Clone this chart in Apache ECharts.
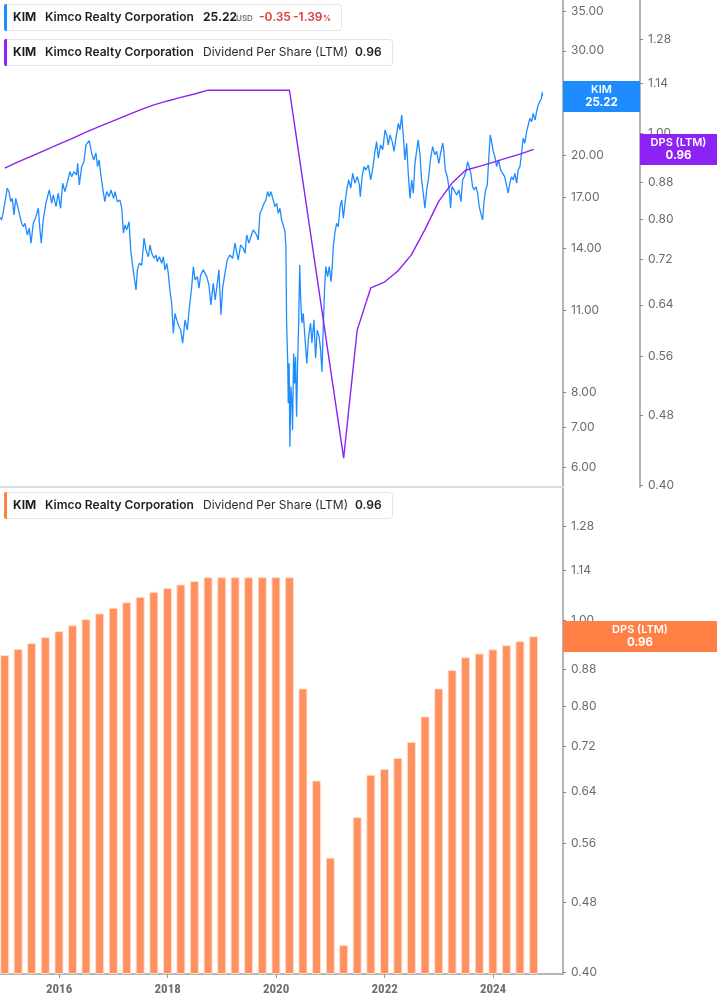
<!DOCTYPE html>
<html>
<head>
<meta charset="utf-8">
<script src="https://cdn.jsdelivr.net/npm/echarts@6/dist/echarts.min.js"></script>
<style>
  html, body { margin: 0; padding: 0; background: #fff; }
  #chart { width: 717px; height: 1005px; }
</style>
</head>
<body>
<div id="chart"></div>
<script>
// KIM daily close (USD)
const priceDates = [
  '2014-11-29','2014-12-10','2014-12-21',
  '2015-01-17','2015-01-28','2015-02-09','2015-02-20','2015-03-03','2015-03-15','2015-03-25','2015-04-08','2015-04-24','2015-05-05','2015-05-16','2015-06-01','2015-06-14','2015-06-26','2015-07-11','2015-07-29','2015-08-14','2015-08-25','2015-09-03','2015-09-16','2015-10-04','2015-10-27','2015-11-12','2015-11-23','2015-12-11','2015-12-26',
  '2016-01-11','2016-01-25','2016-02-09','2016-02-21','2016-03-14','2016-03-26','2016-04-10','2016-04-28','2016-05-05','2016-05-16','2016-06-01','2016-06-16','2016-06-30','2016-07-11','2016-07-22','2016-08-07','2016-08-22','2016-09-05','2016-09-16','2016-09-27','2016-10-08','2016-10-24','2016-11-04','2016-11-16','2016-12-03','2016-12-15',
  '2017-01-02','2017-01-12','2017-01-27','2017-02-14','2017-02-26','2017-03-09','2017-03-20','2017-03-31','2017-04-16','2017-04-27','2017-05-08','2017-05-20','2017-06-02','2017-06-11','2017-06-24','2017-07-10','2017-07-26','2017-08-08','2017-08-24','2017-09-04','2017-09-16','2017-10-01','2017-10-15','2017-10-23','2017-11-06','2017-11-22','2017-12-03','2017-12-14','2017-12-26',
  '2018-01-05','2018-01-17','2018-01-28','2018-02-08','2018-02-19','2018-03-03','2018-03-18','2018-03-30','2018-04-12','2018-04-28','2018-05-13','2018-05-27','2018-06-12','2018-06-23','2018-07-04','2018-07-20','2018-07-31','2018-08-11','2018-08-29','2018-09-09','2018-09-21','2018-10-06','2018-10-19','2018-11-04','2018-11-17','2018-12-01','2018-12-12','2018-12-26',
  '2019-01-06','2019-01-22','2019-02-06','2019-02-24','2019-03-15','2019-03-30','2019-04-10','2019-04-21','2019-05-07','2019-05-25','2019-06-06','2019-06-17','2019-07-02','2019-07-16','2019-07-31','2019-08-12','2019-08-23','2019-09-03','2019-09-14','2019-09-26','2019-10-07','2019-10-24','2019-11-05','2019-11-16','2019-11-27','2019-12-13','2019-12-24',
  '2020-01-05','2020-01-16','2020-01-27','2020-02-07','2020-02-18','2020-03-01','2020-03-07','2020-03-12','2020-03-19','2020-03-23','2020-03-29','2020-04-03','2020-04-10','2020-04-17','2020-04-21','2020-04-28','2020-05-05','2020-05-11','2020-05-18','2020-05-25','2020-06-01','2020-06-08','2020-06-14','2020-06-23','2020-07-02','2020-07-13','2020-07-26','2020-08-07','2020-08-20','2020-08-29','2020-09-12','2020-09-23','2020-10-04','2020-10-17','2020-10-27','2020-11-05','2020-11-13','2020-11-23','2020-12-01','2020-12-13','2020-12-24',
  '2021-01-05','2021-01-14','2021-01-20','2021-02-01','2021-02-12','2021-02-23','2021-03-07','2021-03-18','2021-03-29','2021-04-09','2021-04-21','2021-05-04','2021-05-18','2021-05-31','2021-06-15','2021-07-01','2021-07-15','2021-07-21','2021-08-02','2021-08-15','2021-08-28','2021-09-13','2021-09-29','2021-10-13','2021-10-28','2021-11-08','2021-11-19','2021-12-05','2021-12-19',
  '2022-01-04','2022-01-15','2022-01-26','2022-02-06','2022-02-21','2022-03-05','2022-03-18','2022-04-03','2022-04-14','2022-04-26','2022-05-07','2022-05-18','2022-05-29','2022-06-09','2022-06-21','2022-07-02','2022-07-13','2022-07-24','2022-08-04','2022-08-15','2022-08-27','2022-09-07','2022-09-18','2022-09-29','2022-10-11','2022-10-22','2022-11-07','2022-11-20','2022-12-04','2022-12-17',
  '2023-01-01','2023-01-13','2023-01-27','2023-02-04','2023-02-13','2023-02-27','2023-03-12','2023-03-21','2023-03-30','2023-04-13','2023-05-01','2023-05-16','2023-05-30','2023-06-10','2023-06-21','2023-07-02','2023-07-14','2023-07-24','2023-08-05','2023-08-16','2023-08-27','2023-09-08','2023-09-19','2023-09-30','2023-10-11','2023-10-23','2023-10-31','2023-11-12','2023-11-23','2023-12-04','2023-12-13','2023-12-24',
  '2024-01-02','2024-01-13','2024-01-25','2024-02-07','2024-02-21','2024-03-05','2024-03-19','2024-04-01','2024-04-12','2024-04-23','2024-05-05','2024-05-16','2024-05-27','2024-06-08','2024-06-18','2024-06-30','2024-07-11','2024-07-22','2024-08-02','2024-08-14','2024-08-25','2024-09-05','2024-09-17','2024-09-27','2024-10-11','2024-10-20','2024-10-31','2024-11-11','2024-11-22','2024-11-27','2024-11-29'
];
const priceValues = [
  15.76,15.60,16.10,
  17.64,17.41,16.74,16.96,15.90,16.96,16.85,16.00,15.40,15.20,15.40,14.72,15.11,14.26,15.40,15.80,16.32,15.01,14.26,15.60,16.64,17.52,16.64,17.18,16.42,17.30,
  16.32,17.98,17.41,17.86,18.80,18.44,18.80,18.56,19.42,17.86,19.17,19.54,20.85,20.72,21.20,20.21,19.67,20.21,19.17,19.67,18.56,17.41,16.74,17.41,17.07,17.52,
  16.96,17.41,16.74,16.85,16.32,14.82,15.30,15.01,15.50,13.89,13.19,12.53,11.90,12.86,13.19,13.10,14.54,13.89,13.53,14.16,13.71,13.45,13.62,13.27,13.53,13.19,13.53,12.86,13.19,
  12.70,11.82,11.30,10.06,10.87,10.60,10.33,10.19,9.69,10.60,10.19,11.10,12.05,13.03,12.37,12.53,11.98,12.61,12.86,12.94,12.53,12.13,11.23,12.21,11.45,12.21,12.86,10.80,
  11.98,12.70,13.36,13.62,13.45,14.26,14.35,13.36,14.16,13.98,13.71,14.72,14.26,14.63,15.01,15.11,14.72,14.44,16.00,16.21,16.53,16.85,17.41,17.07,17.41,16.85,16.42,
  16.64,16.00,16.32,15.60,15.30,14.91,14.07,10.47,9.08,7.68,8.96,6.49,8.19,7.68,6.92,9.31,8.29,9.19,7.29,8.96,10.40,13.10,11.60,10.47,10.87,9.93,8.96,9.93,10.47,9.69,10.60,9.14,10.19,9.93,9.43,8.67,10.19,12.05,13.03,12.53,13.03,
  12.29,13.10,14.07,14.91,15.40,15.20,16.42,16.85,15.70,16.64,17.52,18.21,17.64,18.68,17.98,18.44,17.86,17.07,18.44,19.17,18.92,19.29,18.21,19.04,20.34,21.12,19.82,20.85,20.47,
  22.10,21.67,20.85,21.67,21.12,20.34,21.40,22.67,22.10,23.41,21.53,19.67,20.99,18.68,16.96,18.21,17.30,19.42,20.34,21.26,20.08,18.21,17.30,16.32,17.52,18.21,19.82,20.72,20.08,20.34,
  19.42,20.21,20.99,20.34,18.92,18.44,17.52,16.32,17.74,17.52,17.18,17.52,16.74,18.21,18.44,18.80,19.54,19.42,18.68,17.74,17.52,17.74,17.30,16.42,16.00,15.60,16.64,17.52,17.86,19.95,21.67,20.99,
  20.34,19.95,19.17,19.67,18.92,19.04,18.44,18.56,17.30,17.98,18.44,18.21,18.68,17.98,18.92,19.17,20.21,21.40,20.99,21.95,22.52,23.11,22.81,23.56,22.96,23.71,24.33,24.49,24.97,25.55,25.22
];

// Dividend per share (LTM), quarterly
const dpsQuarters = [
  '2014-12-31',
  '2015-03-31','2015-06-30','2015-09-30','2015-12-31',
  '2016-03-31','2016-06-30','2016-09-30','2016-12-31',
  '2017-03-31','2017-06-30','2017-09-30','2017-12-31',
  '2018-03-31','2018-06-30','2018-09-30','2018-12-31',
  '2019-03-31','2019-06-30','2019-09-30','2019-12-31',
  '2020-03-31','2020-06-30','2020-09-30','2020-12-31',
  '2021-03-31','2021-06-30','2021-09-30','2021-12-31',
  '2022-03-31','2022-06-30','2022-09-30','2022-12-31',
  '2023-03-31','2023-06-30','2023-09-30','2023-12-31',
  '2024-03-31','2024-06-30','2024-09-30'
];
const dpsValues = [
  0.914,
  0.929,0.943,0.958,0.973,
  0.988,1.004,1.019,1.034,
  1.049,1.064,1.078,1.089,
  1.099,1.109,1.12,1.12,
  1.12,1.12,1.12,1.12,
  1.12,0.838,0.659,0.539,
  0.429,0.599,0.669,0.679,
  0.699,0.729,0.779,0.838,
  0.879,0.909,0.918,0.928,
  0.938,0.948,0.96
];
// quarters the line in the upper panel steps over
const dpsLineSkip = ['2020-06-30','2020-09-30','2020-12-31'];

const yearTicks = ['2016-01-01','2018-01-01','2020-01-01','2022-01-01','2024-01-01'];
const priceTicks = [6, 7, 8, 11, 14, 17, 20, 25, 30, 35];
const dpsTicks = [0.40, 0.48, 0.56, 0.64, 0.72, 0.80, 0.88, 0.96, 1.00, 1.14, 1.28];

const priceRange = [5.554, 36.52];
const dpsRangeTop = [0.3979, 1.417];
const dpsRangeBottom = [0.3979, 1.4134];
const xRange = ['2014-11-29', '2025-04-16'];

const lastPrice = 25.22;
const lastDps = 0.96;

const BLUE = '#1e8cff';
const PURPLE = '#8c22f4';
const ORANGE = '#ff905f';
const ORANGE_TAG = '#ff7f45';
const FONT = 'Inter, "Noto Sans", sans-serif';

function toTime(s) {
    const p = s.split('-').map(Number);
    return Date.UTC(p[0], p[1] - 1, p[2]);
}

// log scale drawn on a value axis: ln(v / min), so bars start at the bottom
function logAxis(range, ticks, extra) {
    const base = Math.log(range[0]);
    const vals = ticks.map(t => Math.log(t) - base);
    return Object.assign({
        type: 'value',
        position: 'right',
        min: 0,
        max: Math.log(range[1]) - base,
        splitLine: { show: false },
        axisLine: { show: true, lineStyle: { color: '#b5b5b5', width: 2 } },
        axisTick: { show: true, customValues: vals, length: 3, lineStyle: { color: '#8a8a8a' } },
        axisLabel: {
            customValues: vals,
            margin: 8,
            color: '#6b6b6b',
            fontSize: 12,
            fontFamily: FONT,
            formatter: v => Math.exp(v + base).toFixed(2)
        }
    }, extra);
}
function toAxis(range, v) {
    return Math.log(v) - Math.log(range[0]);
}

function tag(lines, width, color, distance) {
    return {
        silent: true,
        symbol: 'none',
        lineStyle: { color: 'rgba(0,0,0,0)', width: 0 },
        label: {
            show: true,
            position: 'end',
            distance: distance,
            backgroundColor: color,
            padding: [3, 0, 3, 0],
            formatter: '{a|' + lines[0] + '}\n{b|' + lines[1] + '}',
            rich: {
                a: { width: width, align: 'center', color: '#fff', fontSize: 11, fontWeight: 600, lineHeight: 12, fontFamily: FONT },
                b: { width: width, align: 'center', color: '#fff', fontSize: 11.5, fontWeight: 700, lineHeight: 13, fontFamily: FONT }
            }
        }
    };
}

function legendBox(y, w, color, parts) {
    const els = [
        { type: 'rect', z: 100, shape: { x: 4.5, y: y + 0.5, width: w, height: 26, r: 3 },
          style: { fill: '#fff', stroke: '#e4e4e4', lineWidth: 1 } },
        { type: 'rect', z: 101, shape: { x: 4, y: y, width: 3, height: 27, r: [2, 0, 0, 2] },
          style: { fill: color } }
    ];
    parts.forEach(p => {
        els.push({
            type: 'text', z: 102, x: p[0], y: y + 13.5 + (p[4] || 0),
            style: { text: p[1], font: p[2], fill: p[3], verticalAlign: 'middle' }
        });
    });
    return els;
}

const B = '700 12px ' + FONT;
const SB = '600 12px ' + FONT;
const N = '400 12px ' + FONT;
const SMALL = '600 8px ' + FONT;

const graphics = [].concat(
    legendBox(4, 337, BLUE, [
        [13, 'KIM', B, '#1f1f1f'],
        [45, 'Kimco Realty Corporation', SB, '#1f1f1f'],
        [203, lastPrice.toFixed(2), B, '#1f1f1f'],
        [236, 'USD', SMALL, '#777', 1.5],
        [259, '-0.35', SB, '#dd3b3b'],
        [293, '-1.39', SB, '#dd3b3b'],
        [323, '%', SMALL, '#dd3b3b', 1.5]
    ]),
    legendBox(39, 388, PURPLE, [
        [13, 'KIM', B, '#1f1f1f'],
        [45, 'Kimco Realty Corporation', SB, '#1f1f1f'],
        [203, 'Dividend Per Share (LTM)', N, '#2a2a2a'],
        [355, lastDps.toFixed(2), SB, '#1f1f1f']
    ]),
    legendBox(492, 388, ORANGE_TAG, [
        [13, 'KIM', B, '#1f1f1f'],
        [45, 'Kimco Realty Corporation', SB, '#1f1f1f'],
        [203, 'Dividend Per Share (LTM)', N, '#2a2a2a'],
        [355, lastDps.toFixed(2), SB, '#1f1f1f']
    ])
);

const priceData = priceDates.map((d, i) => [toTime(d), toAxis(priceRange, priceValues[i])]);
const dpsLineData = dpsQuarters
    .map((d, i) => [d, dpsValues[i]])
    .filter(p => dpsLineSkip.indexOf(p[0]) < 0)
    .map(p => [toTime(p[0]), toAxis(dpsRangeTop, p[1])]);
const dpsBarData = dpsQuarters.map((d, i) => [toTime(d), toAxis(dpsRangeBottom, dpsValues[i])]);

const xMin = toTime(xRange[0]);
const xMax = toTime(xRange[1]);
const yearVals = yearTicks.map(toTime);

const chart = echarts.init(document.getElementById('chart'));
chart.setOption({
    animation: false,
    textStyle: { fontFamily: FONT },
    grid: [
        { left: 0, right: 154, top: 0, height: 487 },
        { left: 0, right: 154, top: 488, height: 486 }
    ],
    xAxis: [
        {
            type: 'value', gridIndex: 0, min: xMin, max: xMax,
            axisLine: { show: true, onZero: false, lineStyle: { color: '#dcdcdc', width: 2 } },
            axisTick: { show: false },
            axisLabel: { show: false },
            splitLine: { show: false }
        },
        {
            type: 'value', gridIndex: 1, min: xMin, max: xMax,
            axisLine: { show: true, onZero: false, lineStyle: { color: '#b5b5b5', width: 2 } },
            axisTick: { show: true, customValues: yearVals, length: 4, lineStyle: { color: '#999' } },
            axisLabel: {
                customValues: yearVals,
                margin: 9,
                color: '#6e6e6e',
                fontSize: 13,
                fontWeight: 'bold',
                fontFamily: '"Liberation Sans Narrow", "Roboto Condensed", Roboto, sans-serif',
                formatter: v => String(new Date(v).getUTCFullYear())
            },
            splitLine: { show: false }
        }
    ],
    yAxis: [
        logAxis(priceRange, priceTicks, { gridIndex: 0 }),
        logAxis(dpsRangeTop, dpsTicks, { gridIndex: 0, offset: 77 }),
        logAxis(dpsRangeBottom, dpsTicks, { gridIndex: 1 })
    ],
    series: [
        {
            name: 'KIM', type: 'line', xAxisIndex: 0, yAxisIndex: 0,
            data: priceData, showSymbol: false, silent: true,
            lineStyle: { color: BLUE, width: 1.3 },
            markLine: Object.assign(tag(['KIM', lastPrice.toFixed(2)], 77, BLUE, 0), {
                data: [{ yAxis: toAxis(priceRange, lastPrice) }]
            })
        },
        {
            name: 'DPS (LTM)', type: 'line', xAxisIndex: 0, yAxisIndex: 1,
            data: dpsLineData, showSymbol: false, silent: true,
            lineStyle: { color: PURPLE, width: 1.4 },
            markLine: Object.assign(tag(['DPS (LTM)', lastDps.toFixed(2)], 77, PURPLE, 77), {
                data: [{ yAxis: toAxis(dpsRangeTop, lastDps) }]
            })
        },
        {
            name: 'DPS (LTM) bars', type: 'bar', xAxisIndex: 1, yAxisIndex: 2,
            data: dpsBarData, barWidth: 9, silent: true,
            itemStyle: { color: ORANGE, borderColor: 'rgba(255,225,205,0.9)', borderWidth: 1 },
            markLine: Object.assign(tag(['DPS (LTM)', lastDps.toFixed(2)], 154, ORANGE_TAG, 0), {
                data: [{ yAxis: toAxis(dpsRangeBottom, lastDps) }]
            })
        }
    ],
    graphic: graphics
});
</script>
</body>
</html>
